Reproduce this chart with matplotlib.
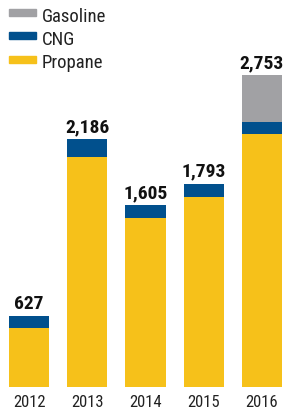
import matplotlib.pyplot as plt
from matplotlib.patches import Rectangle

# Datos (estimados de la imagen)
years = ['2012', '2013', '2014', '2015', '2016']
propane = [521, 2027, 1488, 1678, 2230]
cng = [106, 159, 117, 115, 110]
gasoline = [0, 0, 0, 0, 413]
totals = [627, 2186, 1605, 1793, 2753]

c_gas = '#a1a1a4'
c_cng = '#01508d'
c_prop = '#f6c11a'

plt.rcParams['font.family'] = ['Roboto Condensed', 'Archivo Narrow', 'DejaVu Sans']

fig = plt.figure(figsize=(2.85, 4.15), dpi=100)
ax = fig.add_axes([0, 28 / 415, 1, 387 / 415])

x = list(range(len(years)))
w = 0.687
ax.bar(x, propane, width=w, color=c_prop)
ax.bar(x, cng, width=w, bottom=propane, color=c_cng)
bott = [p + c for p, c in zip(propane, cng)]
ax.bar(x, gasoline, width=w, bottom=bott, color=c_gas)

for i, t in enumerate(totals):
    ax.text(i, t + 62, f"{t:,}", ha='center', va='baseline',
            fontsize=14, fontweight='bold', color='#111111')

ax.set_xlim(-0.498, 4.395)
ax.set_ylim(0, 3416)
ax.set_xticks(x)
ax.set_xticklabels(years, fontsize=12, color='#222222')
ax.tick_params(axis='x', length=0, pad=6)
ax.set_yticks([])
for s in ax.spines.values():
    s.set_visible(False)

# Leyenda manual
items = [('Gasoline', c_gas), ('CNG', c_cng), ('Propane', c_prop)]
for k, (lab, col) in enumerate(items):
    top = 9 + 23.3 * k
    fig.patches.append(Rectangle((9 / 285, 1 - (top + 7) / 415), 27 / 285, 7 / 415,
                                 transform=fig.transFigure, color=col))
    fig.text(42 / 285, 1 - (top + 12.5) / 415, lab, ha='left', va='baseline',
             fontsize=13.5, color='#222222')

fig.savefig('out.png', dpi=100)
